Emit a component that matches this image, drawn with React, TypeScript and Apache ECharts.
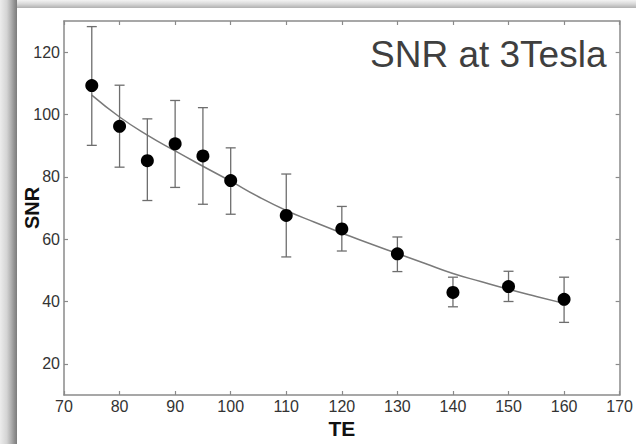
import React, { useEffect, useRef } from "react";
import * as echarts from "echarts";

const te = [75, 80, 85, 90, 95, 100, 110, 120, 130, 140, 150, 160];
const snr = [109.3, 96.2, 85.2, 90.6, 86.7, 78.8, 67.6, 63.3, 55.3, 42.9, 44.8, 40.7];
const errHigh = [128.2, 109.4, 98.6, 104.5, 102.2, 89.3, 80.9, 70.5, 60.7, 47.8, 49.7, 47.8];
const errLow = [90.1, 83.1, 72.4, 76.6, 71.2, 68.0, 54.3, 56.2, 49.6, 38.3, 40.0, 33.3];

const fitTE = [75, 80, 85, 90, 95, 100, 105, 110, 115, 120, 125, 130, 135, 140, 145, 150, 155, 160];
const fitSNR = [106.2, 99.2, 93.4, 88.3, 83.4, 78.6, 73.6, 69.2, 65.5, 62.0, 58.6, 55.4, 52.2, 49.0, 46.4, 43.9, 41.6, 39.4];

const yTicks = [20, 40, 60, 80, 100, 120];
const titleText = "SNR at 3Tesla";
const FONT = "'Liberation Sans', Arial, sans-serif";

export default function App() {
  const ref = useRef<HTMLDivElement>(null);
  useEffect(() => {
    if (!ref.current) return;
    const chart = echarts.init(ref.current, undefined, { renderer: "svg" });
    const axisLine = { lineStyle: { color: "#8a8a8a", width: 1.5 } };
    const tick = { inside: true, length: 4, lineStyle: { color: "#8a8a8a", width: 1.2 } };
    chart.setOption({
      animation: false,
      backgroundColor: "transparent",
      textStyle: { fontFamily: FONT },
      graphic: [
        {
          type: "text",
          left: 370,
          top: 36,
          style: {
            text: titleText,
            font: `37px ${FONT}`,
            fill: "#3f3f3f",
          },
        },
      ],
      grid: { left: 64, top: 21, right: 7, bottom: 47 },
      xAxis: [
        {
          type: "value",
          min: 70,
          max: 170,
          interval: 10,
          name: "TE",
          nameLocation: "middle",
          nameGap: 23,
          nameMoveOverlap: false,
          nameTextStyle: { fontSize: 21, fontWeight: "bold", color: "#111", fontFamily: FONT },
          axisLine,
          axisTick: tick,
          splitLine: { show: false },
          axisLabel: { fontSize: 16, color: "#333", margin: 3, fontFamily: FONT },
        },
        {
          type: "value",
          position: "top",
          min: 70,
          max: 170,
          interval: 10,
          axisLine,
          axisTick: tick,
          splitLine: { show: false },
          axisLabel: { show: false },
        },
      ],
      yAxis: [
        {
          type: "value",
          min: 10,
          max: 130,
          name: "SNR",
          nameLocation: "middle",
          nameGap: 22,
          nameMoveOverlap: false,
          nameTextStyle: { fontSize: 20, fontWeight: "bold", color: "#111", fontFamily: FONT },
          axisLine: { show: true, ...axisLine },
          axisTick: { show: true, ...tick, customValues: yTicks },
          splitLine: { show: false },
          axisLabel: { fontSize: 16, color: "#333", margin: 4, fontFamily: FONT, customValues: yTicks },
        },
        {
          type: "value",
          position: "right",
          min: 10,
          max: 130,
          axisLine: { show: true, ...axisLine },
          axisTick: { show: true, ...tick, customValues: yTicks },
          splitLine: { show: false },
          axisLabel: { show: false },
        },
      ],
      series: [
        {
          type: "line",
          data: fitTE.map((x, i) => [x, fitSNR[i]]),
          smooth: true,
          showSymbol: false,
          symbol: "none",
          lineStyle: { color: "#7a7a7a", width: 1.5 },
          z: 2,
        },
        {
          type: "custom",
          data: te.map((x, i) => [x, errLow[i], errHigh[i]]),
          renderItem: (params: any, api: any) => {
            const x = api.value(0);
            const lo = api.coord([x, api.value(1)]);
            const hi = api.coord([x, api.value(2)]);
            const hw = 5;
            const style = { stroke: "#6e6e6e", lineWidth: 1.3 };
            return {
              type: "group",
              children: [
                { type: "line", shape: { x1: lo[0], y1: lo[1], x2: hi[0], y2: hi[1] }, style },
                { type: "line", shape: { x1: hi[0] - hw, y1: hi[1], x2: hi[0] + hw, y2: hi[1] }, style },
                { type: "line", shape: { x1: lo[0] - hw, y1: lo[1], x2: lo[0] + hw, y2: lo[1] }, style },
              ],
            };
          },
          z: 3,
        },
        {
          type: "scatter",
          data: te.map((x, i) => [x, snr[i]]),
          symbol: "circle",
          symbolSize: 13,
          itemStyle: { color: "#000", opacity: 1 },
          z: 4,
        },
      ],
    });
    return () => chart.dispose();
  }, []);
  return (
    <div style={{ position: "absolute", left: 0, top: 0, width: 636, height: 444, background: "#fff", overflow: "hidden" }}>
      <div
        style={{
          position: "absolute",
          left: 0,
          top: 0,
          width: 636,
          height: 8,
          background: "linear-gradient(to bottom, #f3f3f3 0%, #d8d8d8 50%, #b0b0b0 100%)",
        }}
      />
      <div
        style={{
          position: "absolute",
          left: 0,
          top: 0,
          width: 17,
          height: 444,
          background: "linear-gradient(to right, #ececec 0%, #d4d4d4 40%, #b0b0b0 65%, #909090 85%, #7c7c7c 100%)",
        }}
      />
      <div
        ref={ref}
        style={{ position: "absolute", left: 0, top: 0, width: 636, height: 444 }}
      />
    </div>
  );
}
